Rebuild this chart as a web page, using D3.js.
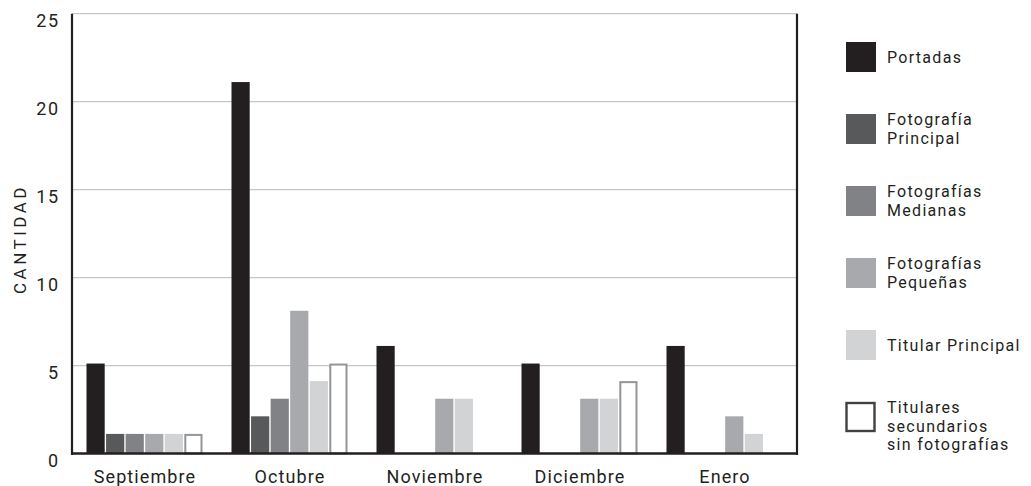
<!DOCTYPE html>
<html><head><meta charset="utf-8">
<script src="https://cdn.jsdelivr.net/npm/d3@7"></script>
<style>
html,body{margin:0;padding:0;background:#fff;}
text{font-family:Roboto, "DejaVu Sans", sans-serif;fill:#231f20;}
</style></head>
<body>
<svg id="c" width="1031" height="486"></svg>
<script>
const months = ["Septiembre","Octubre","Noviembre","Diciembre","Enero"];
const seriesNames = ["Portadas","Fotografía Principal","Fotografías Medianas","Fotografías Pequeñas","Titular Principal","Titulares secundarios sin fotografías"];
const legendLines = [["Portadas"],["Fotografía","Principal"],["Fotografías","Medianas"],["Fotografías","Pequeñas"],["Titular Principal"],["Titulares","secundarios","sin fotografías"]];
const portadas = [5,21,6,5,6];
const fotoPrincipal = [1,2,0,0,0];
const fotoMedianas = [1,3,0,0,0];
const fotoPequenas = [1,8,3,3,2];
const titularPrincipal = [1,4,3,3,1];
const titularesSecundarios = [1,5,0,4,0];
const yTicks = [0,5,10,15,20,25];
const yTitle = "CANTIDAD";

const series = [portadas,fotoPrincipal,fotoMedianas,fotoPequenas,titularPrincipal,titularesSecundarios];
const fills = ["#231f20","#58595b","#808285","#a7a9ac","#d1d3d4","#ffffff"];
const strokes = [null,null,null,null,null,"#939598"];

const svg = d3.select("#c");
const L=72, R=797, T=13.7, B=453.5;
const x0 = d3.scaleBand().domain(months).range([L,R]).paddingInner(0.2).paddingOuter(0.1);
const x1 = d3.scaleBand().domain(d3.range(series.length)).range([0,x0.bandwidth()]).paddingInner(0.07);
const y = d3.scaleLinear().domain([0,25]).range([B,T]);

// grid
svg.append("g").selectAll("line").data(yTicks.filter(d=>d>0)).join("line")
  .attr("x1",L).attr("x2",R).attr("y1",d=>y(d)).attr("y2",d=>y(d))
  .attr("stroke","#c6c6c6").attr("stroke-width",1.3);

// bars
const g = svg.append("g");
months.forEach((m,i)=>{
  series.forEach((s,j)=>{
    const v=s[i]; if(!v) return;
    const sw = strokes[j]?2:0;
    g.append("rect")
      .attr("x",x0(m)+x1(j)+sw/2)
      .attr("y",y(v)+sw/2 - 2)
      .attr("width",x1.bandwidth()-sw)
      .attr("height",B-y(v)-sw/2+2)
      .attr("fill",fills[j])
      .attr("stroke",strokes[j]||"none")
      .attr("stroke-width",sw);
  });
});

// axes lines
svg.append("line").attr("x1",L).attr("x2",L).attr("y1",T).attr("y2",B+1.5).attr("stroke","#231f20").attr("stroke-width",2.2);
svg.append("line").attr("x1",R).attr("x2",R).attr("y1",T).attr("y2",B+1.5).attr("stroke","#231f20").attr("stroke-width",2.2);
svg.append("line").attr("x1",L-1).attr("x2",R+1).attr("y1",B).attr("y2",B).attr("stroke","#231f20").attr("stroke-width",2.5);

// y tick labels
const yAxis = d3.axisLeft(y).tickValues(yTicks).tickSize(0).tickPadding(12.5);
const ya = svg.append("g").attr("transform",`translate(${L},0)`).call(yAxis);
ya.select(".domain").remove();
ya.selectAll("text").attr("font-size",18).attr("font-family","Roboto").attr("fill","#231f20").attr("dy","0.72em").style("letter-spacing","1.5px");

// x labels
const xAxis = d3.axisBottom(x0).tickSize(0).tickPadding(16.5);
const xa = svg.append("g").attr("transform",`translate(0,${B})`).call(xAxis);
xa.select(".domain").remove();
xa.selectAll("text").attr("font-size",18).attr("font-family","Roboto").attr("fill","#231f20").attr("dx","0.5px").style("letter-spacing","1.1px");

// y title
svg.append("text").attr("transform",`translate(25.5,${239}) rotate(-90)`)
  .attr("text-anchor","middle").attr("font-size",17).style("letter-spacing","3.5px").text(yTitle);

// legend
const lg = svg.append("g");
const lh = 18.5;
legendLines.forEach((lines,i)=>{
  const cy = 57 + i*72;
  const isOutline = !!strokes[i];
  lg.append("rect").attr("x",isOutline?846.5:846).attr("y",cy-15+(isOutline?1:0))
    .attr("width",isOutline?28:30).attr("height",isOutline?28:30)
    .attr("fill",fills[i]).attr("stroke",isOutline?"#414042":"none").attr("stroke-width",isOutline?2.4:0);
  const t = lg.append("text").attr("x",887).attr("font-size",16).style("letter-spacing","1.3px");
  const y0 = cy - Math.min(lines.length-1,1)*lh/2;
  lines.forEach((ln,k)=>{
    t.append("tspan").attr("x",887).attr("y",y0+k*lh).attr("dy","0.35em").text(ln);
  });
});
</script>
</body></html>
